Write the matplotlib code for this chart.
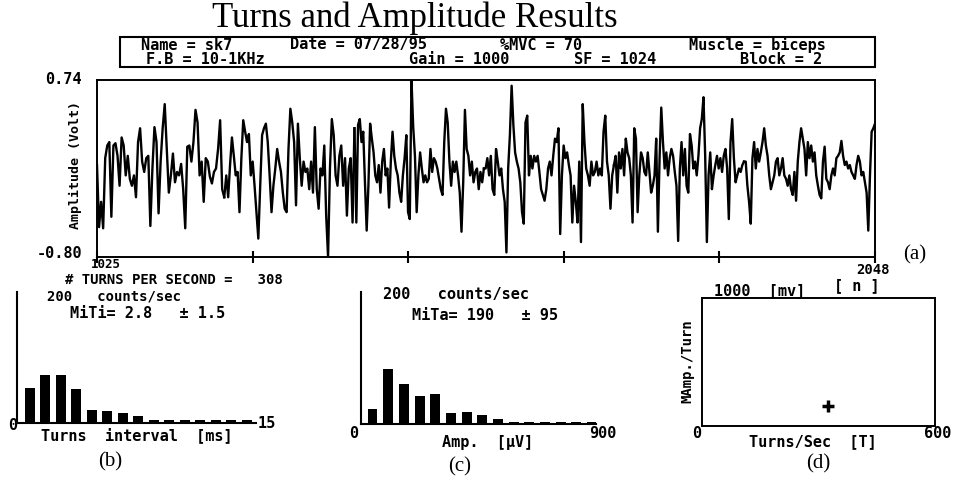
import matplotlib
matplotlib.use('Agg')
import matplotlib.pyplot as plt
import numpy as np

# EMG trace, one list per stretch of the record (Volt)
seg1 = [0.00, -0.54, -0.32, -0.55, 0.06, 0.17, 0.20, -0.45, 0.17, 0.19, 0.08, -0.18, 0.24, 0.17, -0.09, 0.08,
        -0.12, -0.18, -0.09, -0.28, 0.20, 0.32, 0.03, -0.06, 0.06, 0.08, -0.53, -0.03, 0.33, 0.20, -0.42, 0.03,
        0.32, 0.53, 0.14, -0.24, -0.09, 0.10, -0.15, -0.06, -0.09, 0.01, -0.21, -0.55, 0.16, 0.17, 0.03, 0.20,
        0.48, 0.37, -0.09, 0.03, -0.32, 0.06, 0.03, -0.10, -0.16, -0.06, -0.03, 0.14, 0.39, -0.21, -0.28]
seg2 = [-0.09, -0.28, 0.00, 0.24, 0.08, -0.09, -0.06, -0.41, 0.06, 0.39, 0.29, 0.20, 0.27, -0.09, 0.03, -0.18,
        -0.41, -0.64, -0.18, 0.26, 0.32, 0.36, 0.20, -0.09, -0.41, -0.18, -0.03, 0.14, 0.03, -0.06, -0.24, -0.38,
        -0.41, 0.14, 0.49, 0.37, 0.20, -0.35, 0.36, 0.06, -0.18, 0.03, -0.06, -0.03, -0.21, 0.03, -0.24, 0.33,
        -0.21, -0.38, -0.03, -0.09, 0.17, -0.44, -0.80, -0.03, 0.40, 0.26, -0.09, -0.18, 0.08, 0.17, -0.18, 0.06,
        -0.44, -0.03, 0.06, -0.50, 0.32]
seg3 = [-0.50, 0.35, 0.40, 0.20, 0.29, -0.15, -0.57, -0.18, 0.36, 0.23, 0.11, -0.09, -0.15, 0.00, -0.24, 0.03,
        0.14, -0.09, -0.03, -0.37, 0.03, 0.29, 0.08, -0.03, -0.09, -0.24, -0.32, -0.09, 0.06, 0.26, -0.41, -0.47,
        0.74, 0.33, 0.08, -0.41, -0.09, 0.11, -0.03, -0.15, -0.09, -0.15, -0.12, 0.14, -0.06, 0.06, 0.03, -0.03,
        -0.12, -0.21, -0.26, 0.20, 0.49, 0.37, 0.03, -0.18, 0.03, -0.06, 0.03, -0.09, -0.24, -0.58, -0.15, 0.48,
        0.14, 0.08, -0.09, 0.03, -0.15, -0.06, -0.03, -0.21, -0.06, -0.15, -0.03]
seg4 = [-0.03, 0.06, -0.09, 0.08, -0.21, -0.26, 0.14, 0.03, -0.09, -0.03, -0.21, -0.32, -0.76, -0.03, 0.26, 0.69,
        0.35, 0.11, 0.03, -0.03, -0.15, -0.41, -0.51, 0.37, 0.43, -0.09, 0.08, -0.03, 0.08, 0.03, 0.08, -0.06,
        -0.21, -0.26, -0.31, -0.21, -0.03, 0.03, -0.09, 0.08, 0.23, 0.20, 0.32, -0.60, -0.09, 0.17, 0.06, 0.11,
        0.00, -0.09, -0.50, -0.18, -0.32, -0.50, 0.03, -0.67, 0.53, 0.20, -0.03, -0.09, -0.18, 0.03, -0.09, -0.06,
        0.03, -0.09, -0.03, -0.09, 0.29, 0.43, 0.03, -0.09, -0.38, -0.09, 0.00]
seg5 = [0.08, -0.24, 0.11, -0.03, 0.14, -0.09, 0.23, 0.11, 0.06, -0.09, -0.50, 0.32, 0.23, -0.41, -0.09, 0.11,
        0.06, -0.06, -0.09, 0.11, -0.06, -0.24, -0.18, -0.09, 0.23, -0.58, 0.06, 0.50, 0.20, -0.03, 0.11, -0.09,
        0.06, 0.14, 0.08, -0.06, -0.18, -0.66, -0.03, 0.20, -0.09, 0.14, -0.18, -0.24, 0.27, 0.17, -0.03, 0.03,
        -0.09, 0.08, 0.32, 0.40, 0.59, 0.08, -0.67, -0.09, 0.11, -0.21, -0.09, 0.00, 0.08, -0.03, 0.06, -0.06,
        0.08, 0.14, -0.03, -0.47, 0.20, 0.40, 0.06, -0.15, -0.09, -0.03, -0.06, 0.00, 0.03]
seg6 = [0.03, -0.18, -0.32, -0.51, 0.06, 0.20, -0.03, 0.14, 0.03, 0.11, 0.20, 0.32, 0.17, 0.08, -0.09, -0.21,
        -0.15, -0.09, 0.03, 0.06, -0.09, -0.03, 0.06, -0.09, -0.12, -0.18, -0.09, -0.21, -0.26, -0.06, -0.31, 0.03,
        0.20, 0.32, 0.23, 0.14, -0.09, 0.20, 0.06, 0.17, 0.03, 0.11, -0.09, -0.18, -0.26, -0.29, 0.03, 0.16,
        -0.12, -0.15, -0.21, -0.09, -0.03, -0.09, 0.06, 0.08, 0.11, 0.21, 0.08, 0.00, 0.03, -0.03, 0.00, -0.06,
        -0.09, -0.12, 0.00, 0.08, 0.03, -0.09, -0.06, -0.15, -0.24, -0.57, -0.09, 0.29, 0.32, 0.36]
segments = [seg1, seg2, seg3, seg4, seg5, seg6]
seg_edges = [1025, 1195, 1366, 1536, 1707, 1878, 2048]   # sample number where each stretch starts
amp_range = (-0.80, 0.74)

# histograms, counts/sec
ti_edges = np.arange(0, 16)          # ms, 1 ms bins
ti_counts = [53, 74, 74, 52, 20, 18, 15, 11, 4, 4, 4, 4, 4, 4, 4]
ta_edges = np.arange(0, 960, 60)     # uV, 60 uV bins
ta_counts = [22, 84, 60, 43, 46, 16, 18, 13, 8, 3, 3, 3, 3, 3, 3]

# turns/amplitude cloud: one point
turns_sec = [325]
mamp_turn = [158]

W, H = 956, 479
mono = 'DejaVu Sans Mono'
serif = 'Liberation Serif'
dos = dict(family=mono, weight='bold', fontsize=11, ha='center', va='center')

fig = plt.figure(figsize=(W / 100, H / 100), dpi=100)


def put(x, y, s, **kw):
    # x, y in pixels of the 956x479 picture
    fig.text(x / W, 1 - y / H, s, **kw)


def box(l, t, r, b):
    return [l / W, 1 - b / H, (r - l) / W, (b - t) / H]


# header
put(415, 18, 'Turns and Amplitude Results', family=serif, fontsize=25, ha='center', va='center')
fig.patches.append(plt.Rectangle((120 / W, 1 - 67 / H), 755 / W, 30 / H, transform=fig.transFigure,
                                 fill=False, lw=1.5, ec='black'))
for x, s in [(187, 'Name = sk7'), (358, 'Date = 07/28/95'), (541, '%MVC = 70'), (757, 'Muscle = biceps')]:
    put(x, 45, s, **dos)
for x, s in [(205, 'F.B = 10-1KHz'), (459, 'Gain = 1000'), (615, 'SF = 1024'), (781, 'Block = 2')]:
    put(x, 59, s, **dos)

# (a) raw signal
ax = fig.add_axes(box(97, 80, 875, 257))
for k, seg in enumerate(segments):
    last = k == len(segments) - 1
    xs = np.linspace(seg_edges[k], seg_edges[k + 1], len(seg), endpoint=last)
    if k > 0:
        # join to the previous stretch
        xs = np.r_[prev_x, xs]
        seg = [prev_y] + list(seg)
    ax.plot(xs, seg, color='black', lw=1.7)
    prev_x, prev_y = xs[-1], seg[-1]
ax.set_xlim(seg_edges[0], seg_edges[-1])
ax.set_ylim(*amp_range)
ax.set_xticks(np.linspace(seg_edges[0], seg_edges[-1], 6))
ax.set_xticklabels([])
ax.set_yticks([])
ax.tick_params(axis='x', direction='inout', length=8, width=1.5)
for sp in ax.spines.values():
    sp.set_linewidth(1.4)
put(82, 79, '%.2f' % amp_range[1], **dict(dos, ha='right'))
put(82, 254, '%.2f' % amp_range[0], **dict(dos, ha='right'))
put(75, 165, 'Amplitude (Volt)', rotation=90, **dict(dos, fontsize=9.5))
put(106, 265, str(seg_edges[0]), **dict(dos, fontsize=9))
put(873, 270, str(seg_edges[-1]), **dict(dos, fontsize=10))
put(915, 255, '(a)', family=serif, fontsize=15, ha='center', va='center')
put(174, 280, '# TURNS PER SECOND =   308', **dict(dos, fontsize=10))

# (b) turns interval histogram
axb = fig.add_axes(box(17, 292, 256, 423))
ti_mid = (ti_edges[:-1] + ti_edges[1:]) / 2
axb.bar(ti_mid, ti_counts, width=0.65, color='black')
axb.set_xlim(-0.32, 15.1)
axb.set_ylim(0, 200)
put(114, 296, '200   counts/sec', **dict(dos, fontsize=10))
put(148, 314, 'MiTi= 2.8   ± 1.5', **dos)
put(13, 425, '0', **dos)
put(267, 423, '15', **dos)
put(137, 435, 'Turns  interval  [ms]', **dos)
put(110, 462, '(b)', family=serif, fontsize=15, ha='center', va='center')

# (c) turns amplitude histogram
axc = fig.add_axes(box(361, 292, 596, 424))
ta_mid = (ta_edges[:-1] + ta_edges[1:]) / 2
axc.bar(ta_mid, ta_counts, width=38, color='black')
axc.set_xlim(-14, 885)
axc.set_ylim(0, 200)
put(456, 295, '200   counts/sec', **dos)
put(485, 315, 'MiTa= 190   ± 95', **dos)
put(354, 434, '0', **dos)
put(488, 442, 'Amp.  [µV]', **dos)
put(603, 434, '900', **dos)
put(460, 467, '(c)', family=serif, fontsize=15, ha='center', va='center')

for a in (axb, axc):
    for side in ('top', 'right'):
        a.spines[side].set_visible(False)
    a.spines['left'].set_linewidth(1.5)
    a.spines['bottom'].set_linewidth(1.5)
    a.set_xticks([])
    a.set_yticks([])

# (d) MAmp/Turn vs Turns/Sec
axd = fig.add_axes(box(702, 298, 935, 426))
axd.plot(turns_sec, mamp_turn, '+', color='black', ms=8, mew=2.5)
axd.set_xlim(0, 600)
axd.set_ylim(0, 1000)
axd.set_xticks([])
axd.set_yticks([])
for sp in axd.spines.values():
    sp.set_linewidth(1.4)
put(760, 291, '1000  [mv]', **dos)
put(857, 286, '[ n ]', **dos)
put(687, 361, 'MAmp./Turn', rotation=90, **dict(dos, fontsize=10))
put(697, 434, '0', **dos)
put(813, 442, 'Turns/Sec  [T]', **dos)
put(938, 433, '600', **dos)
put(818, 464, '(d)', family=serif, fontsize=15, ha='center', va='center')

fig.savefig('out.png', dpi=100, facecolor='white')
